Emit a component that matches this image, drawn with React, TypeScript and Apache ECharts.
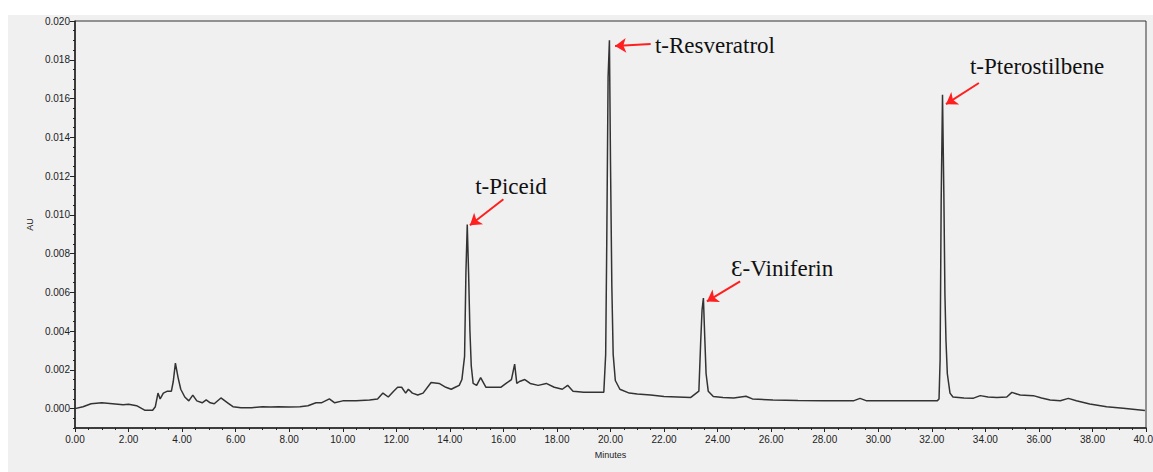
import React, { useEffect, useRef } from "react";
import * as echarts from "echarts";

// Chromatogram trace (retention time in minutes, absorbance in AU)
const times = [
  0.0, 0.3, 0.6, 1.0, 1.4, 1.8, 2.0, 2.3, 2.6, 2.9, 3.0, 3.1, 3.18, 3.3, 3.45, 3.6, 3.67, 3.75, 3.85, 3.95,
  4.1, 4.25, 4.4, 4.55, 4.75, 4.9, 5.05, 5.2, 5.45, 5.7, 5.9, 6.2, 6.6, 7.0, 7.3, 7.6, 8.0, 8.4, 8.7, 9.0,
  9.2, 9.5, 9.7, 10.0, 10.5, 11.0, 11.3, 11.5, 11.7, 11.9, 12.05, 12.2, 12.35, 12.45, 12.6, 12.8, 13.0, 13.3, 13.6, 13.85,
  14.05, 14.2, 14.35, 14.45, 14.55, 14.6, 14.65, 14.7, 14.75, 14.8, 14.87, 15.0, 15.15, 15.35, 15.6, 15.9, 16.1, 16.3, 16.42, 16.5,
  16.6, 16.8, 17.0, 17.3, 17.6, 17.9, 18.2, 18.4, 18.6, 19.0, 19.4, 19.75, 19.82, 19.86, 19.91, 19.96, 20.0, 20.05, 20.1, 20.18,
  20.35, 20.7, 21.0, 21.5, 22.0, 22.5, 23.0, 23.3, 23.37, 23.42, 23.47, 23.52, 23.57, 23.65, 23.84, 24.2, 24.6, 25.06, 25.3, 26.07,
  27.0, 27.94, 28.5, 29.07, 29.32, 29.57, 30.5, 31.5, 32.2, 32.27, 32.31, 32.35, 32.4, 32.45, 32.49, 32.53, 32.58, 32.68, 32.79, 33.2,
  33.56, 33.81, 34.1, 34.43, 34.8, 34.99, 35.3, 35.79, 36.1, 36.42, 36.8, 37.1, 37.4, 37.9, 38.53, 39.15, 39.96,
];
const au = [
  0.0, 0.0001, 0.00025, 0.0003, 0.00025, 0.0002, 0.00022, 0.00015, -0.00008, -0.00008, 0.0001, 0.0008, 0.0005, 0.0008, 0.0009, 0.0009, 0.0014, 0.00235, 0.0016, 0.001,
  0.0006, 0.0004, 0.0007, 0.0004, 0.0003, 0.00045, 0.0003, 0.00025, 0.00055, 0.0003, 0.0001, 0.00005, 0.00005, 0.0001, 0.00008, 0.0001, 0.00008, 0.0001, 0.00015, 0.0003,
  0.0003, 0.0005, 0.0003, 0.0004, 0.0004, 0.00045, 0.0005, 0.0008, 0.0006, 0.0009, 0.0011, 0.0011, 0.0008, 0.001, 0.0008, 0.0007, 0.0008, 0.00135, 0.0013, 0.0011,
  0.001, 0.0011, 0.0012, 0.0015, 0.0027, 0.007, 0.0095, 0.007, 0.004, 0.0022, 0.0013, 0.0012, 0.0016, 0.0011, 0.0011, 0.0011, 0.0013, 0.0015, 0.0023, 0.0013,
  0.0014, 0.0015, 0.0013, 0.0012, 0.0013, 0.0011, 0.001, 0.0012, 0.0009, 0.00085, 0.00085, 0.00085, 0.0028, 0.0085, 0.0171, 0.019, 0.0127, 0.0063, 0.0028, 0.00145,
  0.001, 0.0008, 0.00075, 0.0007, 0.00062, 0.0006, 0.00058, 0.0009, 0.0035, 0.0051, 0.0057, 0.0037, 0.0018, 0.0009, 0.00062, 0.00058, 0.00055, 0.00064, 0.0005, 0.00045,
  0.00042, 0.00041, 0.0004, 0.0004, 0.00053, 0.0004, 0.0004, 0.0004, 0.0004, 0.0005, 0.0025, 0.0107, 0.0162, 0.0111, 0.0059, 0.0035, 0.0018, 0.0008, 0.0006, 0.00055,
  0.00054, 0.00067, 0.0006, 0.00057, 0.0006, 0.00084, 0.0007, 0.00067, 0.00055, 0.00045, 0.00041, 0.00053, 0.00041, 0.00024, 0.0001, 0.00002, -0.0001,
];

// Peak annotations
const peakNames = ["t-Piceid", "t-Resveratrol", "\u0190-Viniferin", "t-Pterostilbene"];
const arrowTips = [
  [14.75, 0.00946],
  [20.17, 0.01871],
  [23.6, 0.00553],
  [32.53, 0.01571],
];
const arrowTails = [
  [16.0, 0.0108],
  [21.5, 0.01881],
  [24.84, 0.00656],
  [33.76, 0.0168],
];
const labelCenters = [
  [16.28, 0.01147],
  [23.9, 0.01876],
  [26.41, 0.00724],
  [35.93, 0.01767],
];

const yLabelValues = [0, 0.002, 0.004, 0.006, 0.008, 0.01, 0.012, 0.014, 0.016, 0.018, 0.02];

export default function App() {
  const ref = useRef<HTMLDivElement>(null);

  useEffect(() => {
    if (!ref.current) return;
    const chart = echarts.init(ref.current, null, { renderer: "svg" });
    const axisColor = "#222";
    const labelStyle = { color: "#222", fontSize: 10, fontFamily: "Liberation Sans, Arial, sans-serif" };
    const isEven = (v: number) => {
      const k = Math.round(v * 10000);
      return k >= 0 && k % 20 === 0;
    };
    chart.setOption({
      animation: false,
      backgroundColor: "#f0f0f0",
      grid: {
        left: 67,
        right: 7,
        top: 6,
        bottom: 44,
        show: true,
        borderColor: "#333",
        borderWidth: 1,
        backgroundColor: "transparent",
        containLabel: false,
        outerBoundsMode: "none",
      },
      xAxis: {
        type: "value",
        min: 0,
        max: 40,
        interval: 2,
        name: "Minutes",
        nameLocation: "middle",
        nameGap: 22,
        nameTextStyle: { color: "#222", fontSize: 9, fontFamily: "Liberation Sans, Arial, sans-serif" },
        axisLine: { show: true, onZero: false, lineStyle: { color: axisColor, width: 1.5 } },
        axisTick: { show: true, length: 4, lineStyle: { color: axisColor } },
        minorTick: { show: true, splitNumber: 4, length: 2, lineStyle: { color: axisColor } },
        splitLine: { show: false },
        axisLabel: {
          ...labelStyle,
          margin: 6,
          formatter: (v: number) => v.toFixed(2),
        },
      },
      yAxis: [
        {
          type: "value",
          min: -0.001,
          max: 0.02,
          interval: 0.0005,
          name: "AU",
          nameLocation: "middle",
          nameGap: 36,
          nameTextStyle: { color: "#222", fontSize: 9, fontFamily: "Liberation Sans, Arial, sans-serif" },
          axisLine: { show: true, onZero: false, lineStyle: { color: axisColor, width: 1.5 } },
          axisTick: { show: true, length: 2, lineStyle: { color: axisColor } },
          splitLine: { show: false },
          axisLabel: {
            ...labelStyle,
            margin: 5,
            formatter: (v: number) => (isEven(v) ? v.toFixed(3) : ""),
          },
        },
        {
          type: "value",
          min: -0.001,
          max: 0.02,
          position: "left",
          axisLine: { show: false },
          axisTick: { show: true, length: 5, customValues: yLabelValues, lineStyle: { color: axisColor } },
          axisLabel: { show: false },
          splitLine: { show: false },
        },
      ],
      series: [
        {
          type: "line",
          yAxisIndex: 0,
          data: times.map((t, i) => [t, au[i]]),
          showSymbol: false,
          symbol: "none",
          lineStyle: { color: "#333", width: 1.5 },
          silent: true,
          markLine: {
            silent: true,
            symbol: ["none", "arrow"],
            symbolSize: 11,
            lineStyle: { color: "#ff1f1f", width: 2, type: "solid" },
            label: { show: false },
            data: arrowTips.map((tip, i) => [
              { coord: arrowTails[i] },
              { coord: tip },
            ]),
          },
          markPoint: {
            silent: true,
            symbol: "circle",
            symbolSize: 1,
            itemStyle: { color: "transparent" },
            label: {
              show: true,
              position: "inside",
              formatter: "{b}",
              color: "#111",
              fontSize: 23,
              fontFamily: "Liberation Serif, Times New Roman, serif",
            },
            data: peakNames.map((n, i) => ({ name: n, coord: labelCenters[i] })),
          },
        },
      ],
    });
    return () => chart.dispose();
  }, []);

  return (
    <div
      ref={ref}
      style={{ position: "absolute", left: 8, top: 15, width: 1145, height: 457 }}
    />
  );
}
